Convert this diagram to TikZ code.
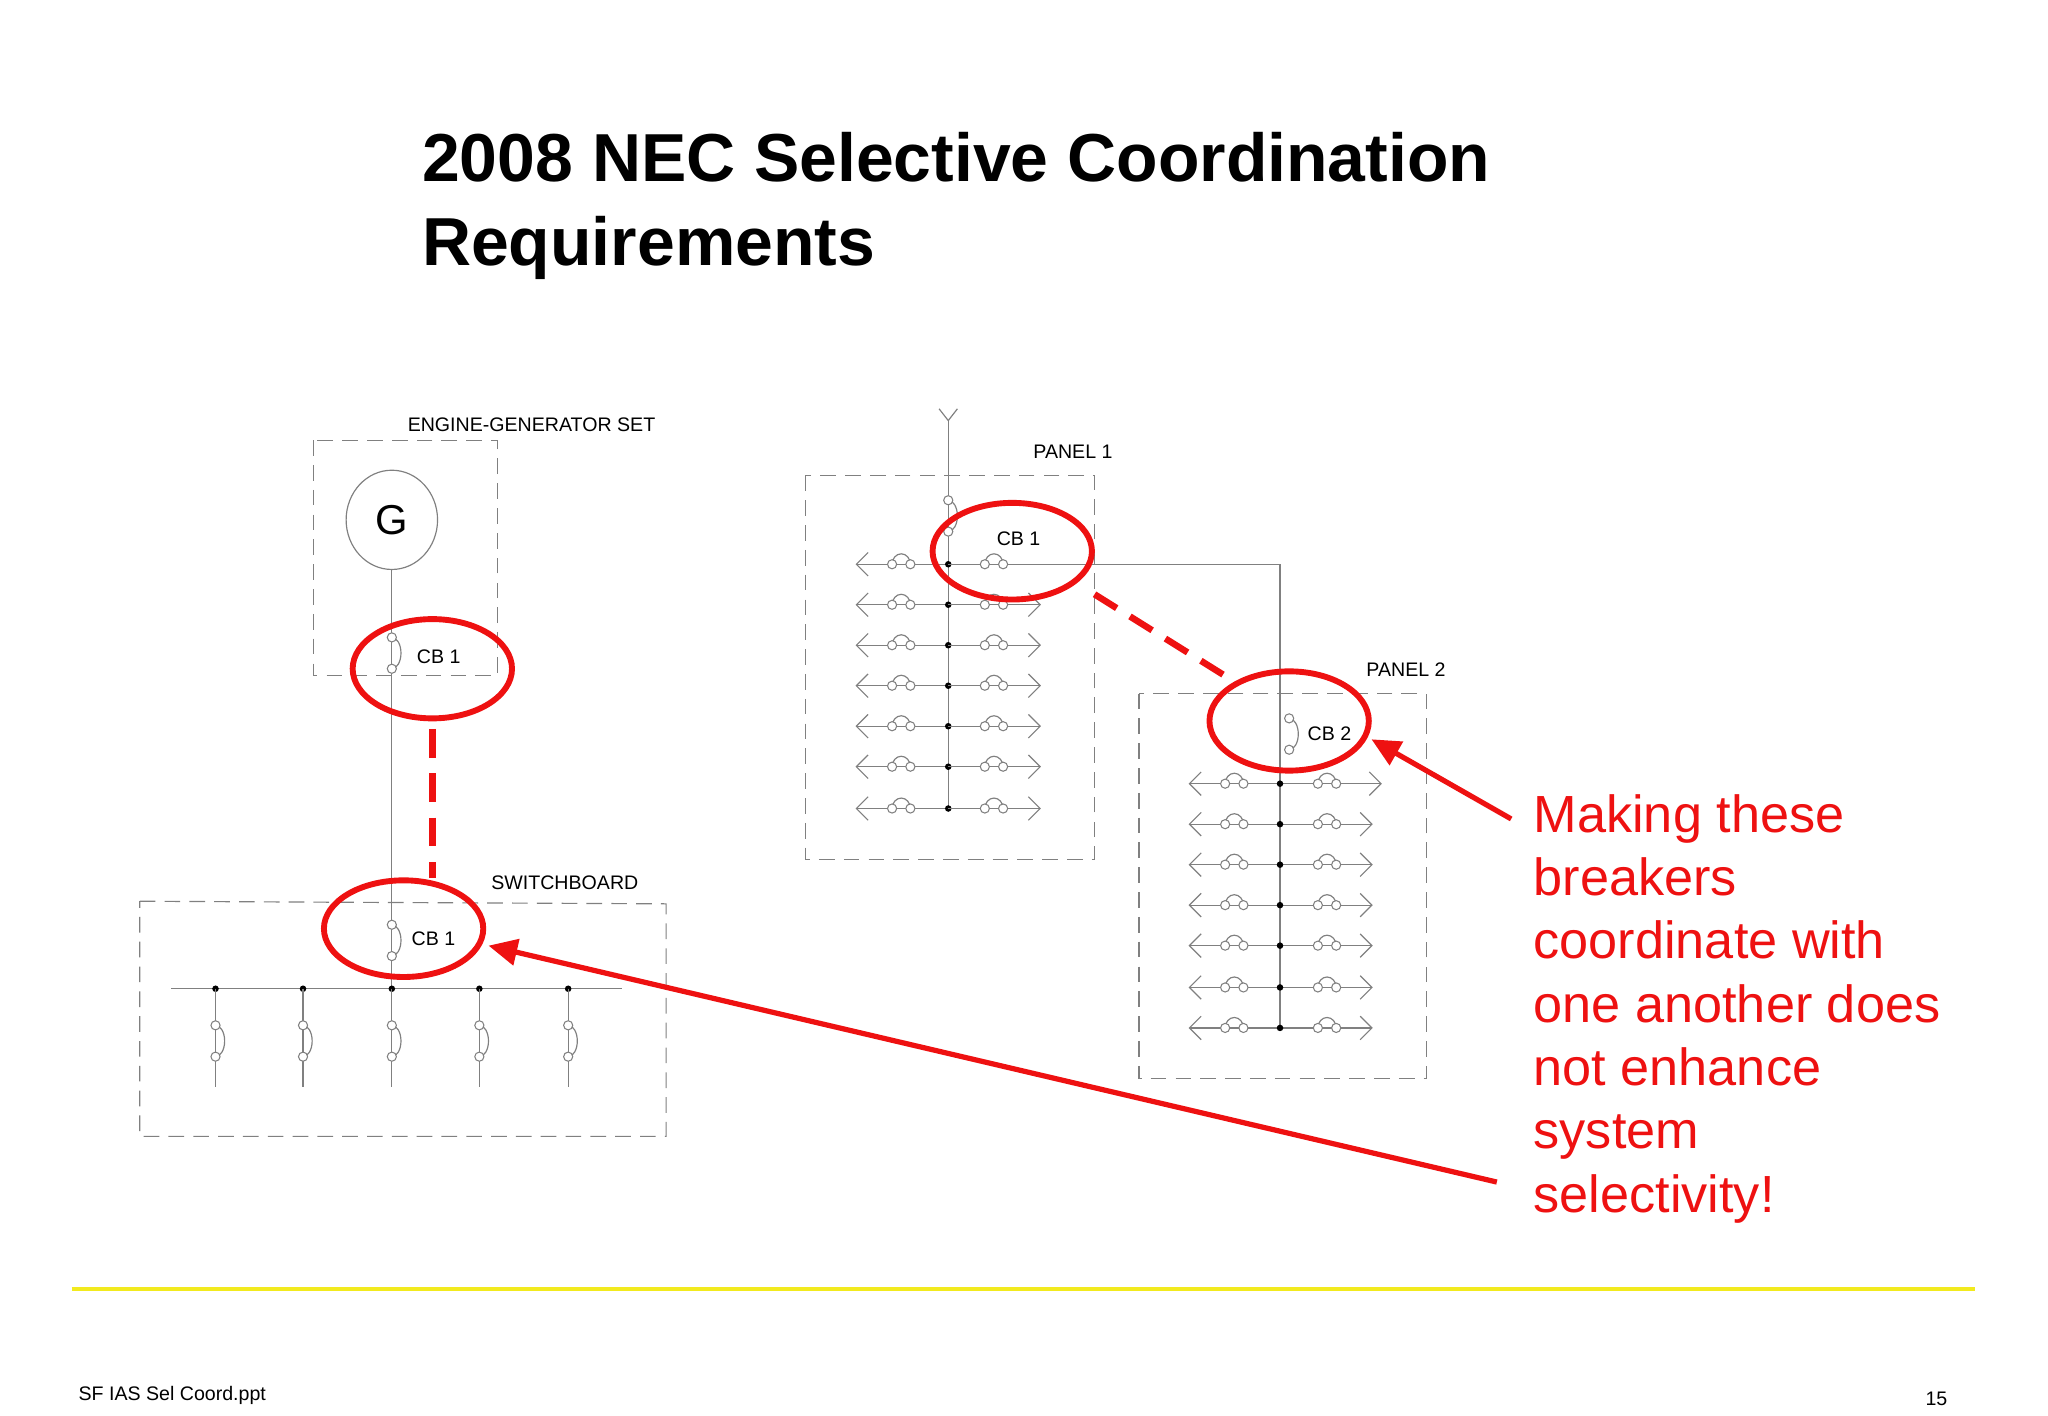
\documentclass[tikz,border=0pt]{standalone}
\usepackage{fontspec}
\setmainfont{Liberation Sans}
\usetikzlibrary{arrows.meta,shapes.geometric}
\definecolor{ln}{HTML}{808080}
\definecolor{rd}{HTML}{EE1111}
\definecolor{yl}{HTML}{F2EA1E}
\tikzset{
 wire/.style={draw=ln,line width=0.9pt},
 box/.style={draw=ln,line width=0.9pt,dash pattern=on 12pt off 7pt},
 lbl/.style={font=\fontsize{15}{15}\selectfont,anchor=base west,inner sep=0},
 ring/.style={draw=rd,line width=4.5pt},
 redarrow/.style={draw=rd,line width=4pt,-{Triangle[length=22pt,width=20pt]}},
 tip/.style={-{Straight Barb[length=9pt,width=18pt]}},
 pin/.style={circle,draw=ln,fill=white,inner sep=0,minimum size=7pt,line width=0.8pt},
 dot/.style={circle,fill=black,inner sep=0,minimum size=5pt},
 hb/.pic={\draw[wire] (-7,0) arc (180:360:7 and 8); \node[pin] at (-7,0){}; \node[pin] at (7,0){};},
 vb/.pic={\draw[wire] (0,-12) arc (-90:90:7 and 12); \node[pin] at (0,-12){}; \node[pin] at (0,12){};},
}
\begin{document}
\begin{tikzpicture}[x=1pt,y=-1pt]
\useasboundingbox[fill=white] (0,0) rectangle (1568,1084);
% title
\node[anchor=base west,inner sep=0,align=left,font=\fontsize{52}{64}\selectfont\bfseries] (title) at (323,203) {2008 NEC Selective Coordination\\Requirements};
% engine generator set
\draw[box] (240,337) rectangle (381,517);
\node[lbl] (egs) at (312,330) {ENGINE-GENERATOR SET};
\node[draw=ln,line width=0.9pt,ellipse,minimum width=70pt,minimum height=76pt,inner sep=0,font=\fontsize{32}{32}\selectfont] (G) at (300,398) {G};
\draw[wire] (G.south) -- (300,757);
\pic at (300,500) {vb};
\node[lbl] (cbA) at (319,508) {CB 1};
\draw[ring] (331,512) ellipse (61 and 38);
\draw[draw=rd,line width=5pt,dash pattern=on 22pt off 12pt] (331,558) -- (331,672);
% switchboard
\draw[box] (107,690) -- (510,692) -- (510,870) -- (107,870) -- cycle;
\node[lbl] (swb) at (376,681) {SWITCHBOARD};
\pic at (300,720) {vb};
\node[lbl] (cbB) at (315,724) {CB 1};
\draw[ring] (309,711) ellipse (61 and 37);
\draw[wire] (131,757) -- (476,757);
\foreach \x in {165,232,300,367,435}{
  \node[dot] at (\x,757){};
  \draw[wire] (\x,757) -- (\x,832);
  \pic at (\x,797) {vb};
}
% panel 1
\draw[wire] (719,313) -- (726,322) -- (733,313);
\draw[wire] (726,322) -- (726,620);
\draw[box] (617,364) rectangle (838,658);
\node[lbl] (p1) at (791,351) {PANEL 1};
\pic at (726,395) {vb};
\foreach \y in {432,463,494,525,556,587,619}{
  \draw[wire,tip] (726,\y) -- (655,\y);
  \pic at (690,\y) {hb};
  \node[dot] at (726,\y){};
}
\foreach \y in {463,494,525,556,587,619}{
  \draw[wire,tip] (726,\y) -- (797,\y);
  \pic at (761,\y) {hb};
}
\draw[wire] (726,432) -- (980,432) -- (980,788);
\pic at (761,432) {hb};
\node[lbl] (cbC) at (763,418) {CB 1};
\draw[ring] (775,422) ellipse (61 and 37);
\draw[draw=rd,line width=5pt,dash pattern=on 20pt off 12pt] (838,455) -- (942,520);
% panel 2
\draw[box] (872,531) rectangle (1092,826);
\node[lbl] (p2) at (1046,518) {PANEL 2};
\pic at (987,562) {vb};
\node[lbl] (cbD) at (1001,567) {CB 2};
\draw[ring] (987,552) ellipse (61 and 38);
\foreach \y/\e in {600/1058,631/1051,662/1051,693/1051,724/1051,756/1051,787/1051}{
  \draw[wire,tip] (980,\y) -- (910,\y);
  \draw[wire,tip] (980,\y) -- (\e,\y);
  \pic at (945,\y) {hb};
  \pic at (1016,\y) {hb};
  \node[dot] at (980,\y){};
}
% red text and arrows
\node[anchor=base west,inner sep=0,align=left,text=rd,font=\fontsize{40}{48.5}\selectfont] (msg) at (1174,928) {Making these\\breakers\\coordinate with\\one another does\\not enhance\\system\\selectivity!};
\coordinate (a1) at (1157,627);
\coordinate (a2) at (1146,905);
\draw[redarrow] (a1) -- (1050,566);
\draw[redarrow] (a2) -- (374,724);
% footer
\draw[draw=yl,line width=3.5pt] (55,987) -- (1512,987);
\node[lbl] (foot) at (60,1072) {SF IAS Sel Coord.ppt};
\node[lbl] (pg) at (1474,1076) {15};
\end{tikzpicture}
\end{document}
